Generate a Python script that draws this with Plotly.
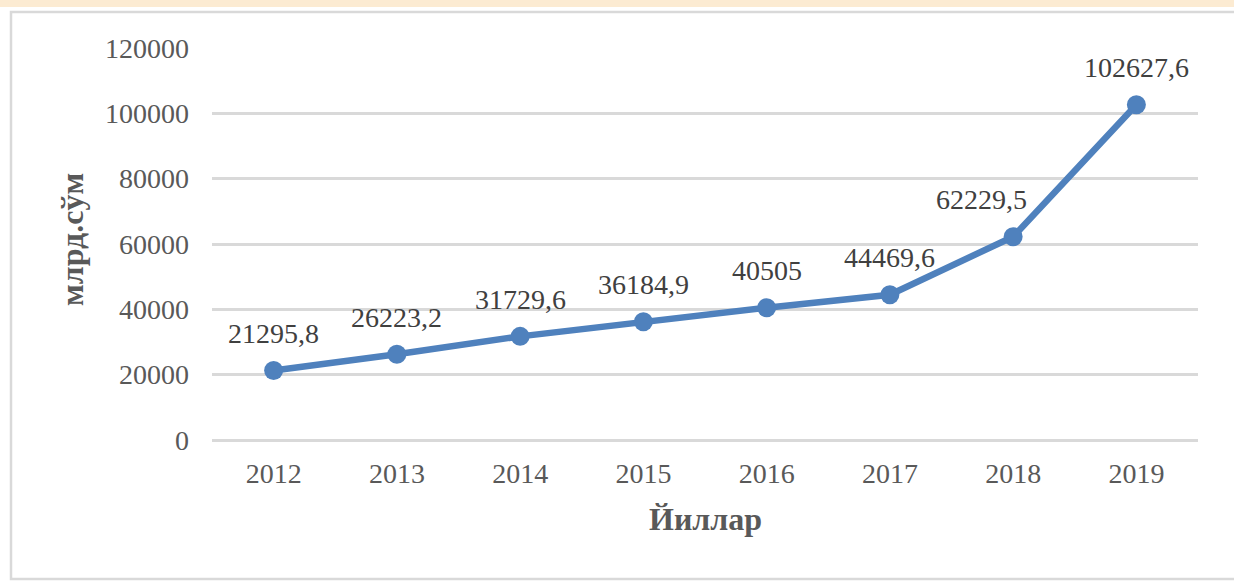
import plotly.graph_objects as go

# Annual values, billion soum
years = ["2012", "2013", "2014", "2015", "2016", "2017", "2018", "2019"]
values = [21295.8, 26223.2, 31729.6, 36184.9, 40505, 44469.6, 62229.5, 102627.6]
value_labels = ["21295,8", "26223,2", "31729,6", "36184,9", "40505", "44469,6", "62229,5", "102627,6"]
y_ticks = [0, 20000, 40000, 60000, 80000, 100000, 120000]

W, H = 1234, 587
L, R, T, B = 212, 36, 48, 147
PW, PH = W - L - R, H - T - B

def px_x(px):
    return (px - L) / PW

def px_y(py):
    return (H - B - py) / PH

SERIF = "Liberation Serif"
LINE = "#4F81BD"
GRID = "#D9D9D9"

fig = go.Figure()
fig.add_trace(go.Scatter(
    x=years, y=values, mode="lines+markers",
    line=dict(color=LINE, width=6.5),
    marker=dict(color=LINE, size=19),
    showlegend=False, hoverinfo="skip",
))

# value labels above each point (category index used for x)
label_shift = {"2018": -32}
for i, (yr, v, lab) in enumerate(zip(years, values, value_labels)):
    fig.add_annotation(
        x=i, y=v, text=lab, showarrow=False,
        yshift=37, xshift=label_shift.get(yr, 0),
        font=dict(family=SERIF, size=28, color="#404040"),
    )

# axis titles
fig.add_annotation(
    xref="paper", yref="paper", x=0.5, y=px_y(519), text="<b>Йиллар</b>",
    showarrow=False, xanchor="center", yanchor="middle",
    font=dict(family=SERIF, size=32, color="#595959"),
)
fig.add_annotation(
    xref="paper", yref="paper", x=px_x(72), y=px_y(240), text="<b>млрд.сўм</b>",
    showarrow=False, textangle=-90, xanchor="center", yanchor="middle",
    font=dict(family=SERIF, size=32, color="#595959"),
)

# page band and chart frame
fig.add_shape(type="rect", xref="paper", yref="paper",
              x0=px_x(-5), x1=px_x(W + 5), y0=px_y(0 - 5), y1=px_y(7),
              fillcolor="#FCEBD2", line=dict(width=0), layer="below")
fig.add_shape(type="rect", xref="paper", yref="paper",
              x0=px_x(11), x1=px_x(W + 20), y0=px_y(579), y1=px_y(12),
              fillcolor="rgba(0,0,0,0)", line=dict(color=GRID, width=2.5), layer="below")

fig.update_layout(
    width=W, height=H,
    margin=dict(l=L, r=R, t=T, b=B),
    paper_bgcolor="white", plot_bgcolor="white",
    xaxis=dict(
        type="category", range=[-0.5, 7.5], showgrid=False, zeroline=False,
        showline=False, ticks="", ticklabelstandoff=14,
        tickfont=dict(family=SERIF, size=28, color="#595959"),
    ),
    yaxis=dict(
        range=[0, 120000], tickvals=y_ticks, ticktext=[str(t) for t in y_ticks],
        showgrid=True, gridcolor=GRID, gridwidth=2.5,
        zeroline=True, zerolinecolor=GRID, zerolinewidth=2.5,
        showline=False, ticks="", ticklabelstandoff=22,
        tickfont=dict(family=SERIF, size=28, color="#595959"),
    ),
)

fig.write_html("out.html")
